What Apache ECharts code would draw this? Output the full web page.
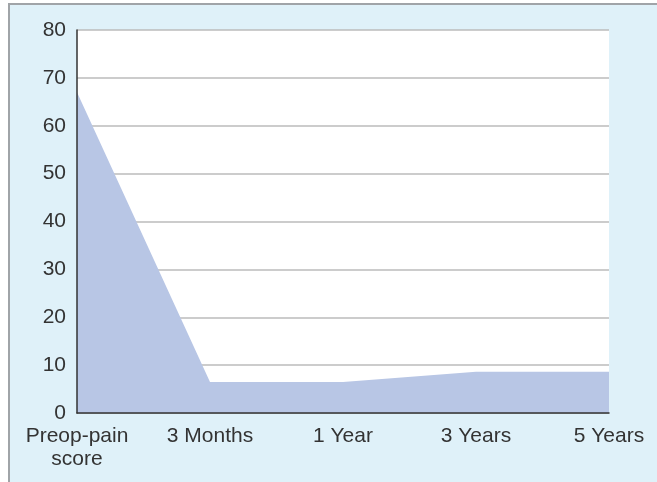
<!DOCTYPE html>
<html>
<head>
<meta charset="utf-8">
<script src="https://cdn.jsdelivr.net/npm/echarts@6/dist/echarts.min.js"></script>
<style>
  html, body { margin: 0; padding: 0; background: #fff; }
  #frame {
    position: absolute; left: 8px; top: 3px; right: 0; bottom: 0;
    background: #dff1f9; border-left: 2px solid #a0a4a8; border-top: 2px solid #a0a4a8;
  }
  #chart { position: absolute; left: 0; top: 0; width: 657px; height: 482px; }
</style>
</head>
<body>
<div id="frame"></div>
<div id="chart"></div>
<script>
// time points after surgery and the pain score
var categories = ['Preop-pain\nscore', '3 Months', '1 Year', '3 Years', '5 Years'];
var painScore = [67, 6.5, 6.5, 8.6, 8.6];
var yTicks = { min: 0, max: 80, interval: 10 };

var font = 'Liberation Sans, Arial, sans-serif';
var chart = echarts.init(document.getElementById('chart'));
chart.setOption({
  backgroundColor: 'transparent',
  animation: false,
  grid: { left: 77, right: 48, top: 30, bottom: 69, backgroundColor: '#fff', show: true, borderWidth: 0 },
  xAxis: {
    type: 'category', data: categories, boundaryGap: false, z: 5,
    axisLine: { lineStyle: { color: '#333', width: 1.5 } },
    axisTick: { show: false },
    axisLabel: { color: '#333', fontSize: 21, fontFamily: font, margin: 12, lineHeight: 23, interval: 0 },
    splitLine: { show: false }
  },
  yAxis: [{
    // labels + grid lines, drawn under the area
    type: 'value', min: yTicks.min, max: yTicks.max, interval: yTicks.interval, z: 0,
    axisLine: { show: false },
    axisTick: { show: false },
    axisLabel: { color: '#333', fontSize: 21, fontFamily: font, margin: 11, padding: [6, 0, 0, 0] },
    splitLine: { lineStyle: { color: '#bbb', width: 1.5 } }
  }, {
    // the dark axis line only, drawn over the area
    type: 'value', position: 'left', min: yTicks.min, max: yTicks.max, interval: yTicks.interval, z: 5,
    axisLine: { show: true, onZero: false, lineStyle: { color: '#333', width: 1.5 } },
    axisTick: { show: false }, axisLabel: { show: false }, splitLine: { show: false }
  }],
  series: [{
    type: 'line', data: painScore, showSymbol: false,
    lineStyle: { width: 0 },
    areaStyle: { color: '#b8c6e5', opacity: 1 },
    z: 2
  }]
});
</script>
</body>
</html>
